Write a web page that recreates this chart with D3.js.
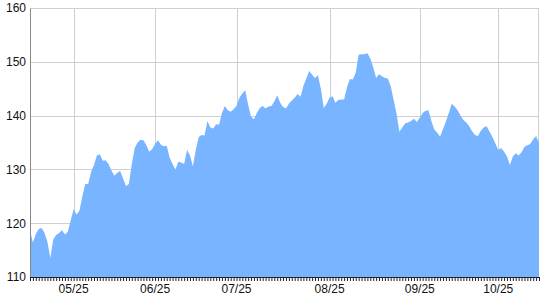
<!DOCTYPE html>
<html>
<head>
<meta charset="utf-8">
<script src="https://cdn.jsdelivr.net/npm/d3@7"></script>
<style>
  body { margin: 0; background: #fff; }
  svg text { font-family: "Liberation Sans", Arial, sans-serif; font-size: 12px; fill: #111; }
</style>
</head>
<body>
<div id="chart"></div>
<script>
// one value per trading point
var prices = [
  118.7, 116.4, 118.0, 118.9, 119.1, 118.2, 116.5, 113.5, 117.0, 117.8,
  118.2, 118.7, 117.9, 118.4, 120.5, 122.6, 121.6, 122.3, 125.0, 127.3,
  127.3, 129.5, 130.8, 132.6, 132.8, 131.6, 131.7, 131.0, 129.8, 128.8,
  129.4, 129.7, 128.3, 126.9, 127.3, 131.0, 134.0, 135.0, 135.5, 135.4,
  134.5, 133.3, 133.8, 134.7, 135.4, 134.6, 134.3, 134.4, 132.2, 131.0,
  130.0, 131.4, 131.3, 131.0, 133.6, 132.6, 130.6, 133.6, 136.0, 136.4,
  136.3, 139.0, 137.8, 137.6, 138.4, 138.3, 140.5, 141.8, 141.0, 140.7,
  141.2, 141.8, 143.3, 144.1, 144.7, 142.0, 139.8, 139.3, 140.5, 141.4,
  141.8, 141.3, 141.7, 141.8, 142.6, 143.8, 142.4, 141.6, 141.3, 142.2,
  142.8, 143.3, 144.0, 143.5, 145.5, 146.9, 148.3, 147.6, 147.0, 147.5,
  145.0, 141.4, 142.2, 143.3, 143.6, 142.4, 142.9, 143.0, 143.0, 145.3,
  146.8, 146.7, 148.0, 151.3, 151.4, 151.4, 151.6, 150.6, 149.0, 147.0,
  147.7, 147.3, 147.0, 146.9, 145.5, 143.0, 140.4, 137.0, 137.8, 138.6,
  138.7, 139.0, 139.4, 138.8, 139.6, 140.5, 140.9, 141.0, 139.0, 137.4,
  136.8, 136.1, 137.5, 138.9, 140.5, 142.2, 141.7, 141.0, 140.0, 139.2,
  138.7, 138.0, 137.1, 136.4, 136.2, 137.2, 137.8, 138.0, 137.0, 136.0,
  134.8, 133.6, 134.0, 133.3, 132.4, 130.8, 132.4, 133.0, 132.6, 133.2,
  134.2, 134.5, 134.7, 135.6, 136.2, 134.9
];

var monthIndex = [15, 43, 71, 103, 134, 161];
var monthLabels = ["05/25", "06/25", "07/25", "08/25", "09/25", "10/25"];
var yTicks = [110, 120, 130, 140, 150, 160];

var svgWidth = 540, svgHeight = 300;
var margin = { top: 8, right: 1, bottom: 23, left: 30 };
var width = svgWidth - margin.left - margin.right;
var height = svgHeight - margin.top - margin.bottom;

var svg = d3.select("#chart").append("svg")
  .attr("width", svgWidth)
  .attr("height", svgHeight);

var g = svg.append("g")
  .attr("transform", `translate(${margin.left}, ${margin.top})`);

var x = d3.scaleLinear().domain([0, prices.length - 1]).range([0, width]);
var y = d3.scaleLinear().domain([110, 160]).range([height, 0]);

// grid
g.selectAll(".hgrid").data(yTicks.slice(1)).enter().append("line")
  .attr("x1", 0).attr("x2", width)
  .attr("y1", d => Math.round(y(d)) + 0.5).attr("y2", d => Math.round(y(d)) + 0.5)
  .attr("stroke", "#cfcfcf");

g.selectAll(".vgrid").data(monthIndex).enter().append("line")
  .attr("x1", d => Math.round(x(d)) + 0.5).attr("x2", d => Math.round(x(d)) + 0.5)
  .attr("y1", 0).attr("y2", height)
  .attr("stroke", "#cfcfcf");

g.append("line")
  .attr("x1", width - 0.5).attr("x2", width - 0.5)
  .attr("y1", 0).attr("y2", height)
  .attr("stroke", "#cfcfcf");

// area
var area = d3.area()
  .x((d, i) => x(i))
  .y0(height)
  .y1(d => y(d));

g.append("path")
  .datum(prices)
  .attr("fill", "#78b4ff")
  .attr("d", area);

// y axis
var leftAxis = d3.axisLeft(y).tickValues(yTicks).tickSize(0).tickPadding(4);
var yAxisG = g.append("g").call(leftAxis);
yAxisG.select(".domain").attr("stroke", "#888");
yAxisG.selectAll("text").attr("fill", "#111").style("font-size", "12px");

// x axis: small tick for every point, labels at month starts
var bottomAxis = d3.axisBottom(x)
  .tickValues(d3.range(prices.length))
  .tickSize(4)
  .tickFormat(() => "");
var xAxisG = g.append("g")
  .attr("transform", `translate(0, ${height})`)
  .call(bottomAxis);
xAxisG.select(".domain").attr("stroke", "#222");
xAxisG.selectAll(".tick line").attr("stroke", "#222");

g.selectAll(".mlabel").data(monthIndex).enter().append("text")
  .attr("x", d => x(d))
  .attr("y", height + 16)
  .attr("text-anchor", "middle")
  .text((d, i) => monthLabels[i]);
</script>
</body>
</html>
